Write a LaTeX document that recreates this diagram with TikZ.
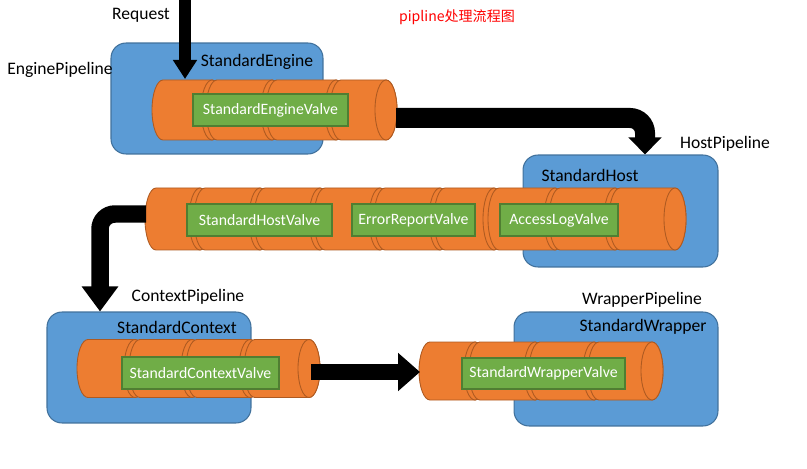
\documentclass[tikz,border=0pt]{standalone}
\usepackage{fontspec}
\setmainfont{Carlito}
\newfontfamily\cjk{Noto Sans CJK SC}
\usetikzlibrary{arrows.meta, positioning, calc}
\definecolor{boxblue}{HTML}{5B9BD5}
\definecolor{boxedge}{HTML}{41719C}
\definecolor{pipeorange}{HTML}{ED7D31}
\definecolor{pipeedge}{HTML}{AE5A21}
\definecolor{valvegreen}{HTML}{70AD47}
\definecolor{valveedge}{HTML}{507E32}
% one pipe: mid y, half height, list of segments left/right
\newcommand{\valvepipe}[3]{%
  \foreach \xl/\xr in {#3} {
    \filldraw[pipeseg] (\xl,#1-#2) -- (\xr,#1-#2) arc[start angle=90, end angle=-90, x radius=0.22cm, y radius=#2*0.02cm]
      -- (\xl,#1+#2) arc[start angle=270, end angle=90, x radius=0.22cm, y radius=#2*0.02cm] -- cycle;
    \draw[pipeseg] (\xr,#1) ellipse[x radius=0.22cm, y radius=#2*0.02cm];
  }%
}
\begin{document}
\begin{tikzpicture}[
        x=0.02cm, y=-0.02cm,
        pipebox/.style={draw=boxedge, fill=boxblue, rounded corners=0.3cm, line width=0.6pt},
        pipeseg/.style={draw=pipeedge, fill=pipeorange, line width=0.5pt},
        valve/.style={draw=valveedge, fill=valvegreen, text=white, font=\fontsize{9}{11}\selectfont, minimum height=0.64cm, inner sep=0pt, line width=0.6pt},
        lbl/.style={inner sep=0pt, font=\fontsize{10}{12}\selectfont},
        bigarrow/.style={draw=black, line width=#1, rounded corners=0.3cm}
    ]
        \useasboundingbox (0,0) rectangle (807,469);

        % containers
        \node[pipebox, minimum width=4.24cm, minimum height=2.22cm] (engine) at (217,98.5) {};
        \node[pipebox, minimum width=3.9cm, minimum height=2.24cm] (host) at (620.5,211) {};
        \node[pipebox, minimum width=4.08cm, minimum height=2.22cm] (context) at (149,367.5) {};
        \node[pipebox, minimum width=4.08cm, minimum height=2.28cm] (wrapper) at (616,369) {};

        % pipes
        \valvepipe{110}{30}{163/212, 217/272, 277/336, 341/386}
        \valvepipe{219}{31}{156/200, 205/260, 265/320, 325/380, 385/440, 445/494, 499/555, 560/615, 620/675}
        \valvepipe{368.5}{29}{88/135, 140/192, 197/250, 255/309}
        \valvepipe{371}{29}{430/475, 480/535, 540/594, 599/652}

        % valves
        \node[valve, minimum width=3.1cm] (enginevalve) at (270.5,110) {StandardEngineValve};
        \node[valve, minimum width=2.9cm] (hostvalve) at (259.5,220) {StandardHostValve};
        \node[valve, minimum width=2.46cm] (errorvalve) at (413.5,220) {ErrorReportValve};
        \node[valve, minimum width=2.36cm] (accessvalve) at (559,220) {AccessLogValve};
        \node[valve, minimum width=3.14cm] (contextvalve) at (200.5,373) {StandardContextValve};
        \node[valve, minimum width=3.26cm, minimum height=0.62cm] (wrappervalve) at (543.5,373.5) {StandardWrapperValve};

        % labels
        \node[lbl] (request) at (141,15) {Request};
        \node[lbl, font=\cjk\fontsize{8}{10}\selectfont, text=red] (title) at (457,17) {pipline处理流程图};
        \node[lbl] (enginelbl) at (60,70) {EnginePipeline};
        \node[lbl] (enginename) at (257,62) {StandardEngine};
        \node[lbl] (hostlbl) at (725,144) {HostPipeline};
        \node[lbl] (hostname) at (590,175) {StandardHost};
        \node[lbl] (contextlbl) at (188,297) {ContextPipeline};
        \node[lbl] (contextname) at (177,327) {StandardContext};
        \node[lbl] (wrapperlbl) at (642,300) {WrapperPipeline};
        \node[lbl] (wrappername) at (643,327) {StandardWrapper};

        % connector ends
        \coordinate (reqtop) at (185,0);
        \coordinate (enginein) at (185,79);
        \coordinate (engineout) at (396,118);
        \coordinate (hostout) at (146,214);
        \coordinate (contextout) at (311,372);
        \coordinate (wrapperin) at (420,372);

        % arrows
        \draw[bigarrow=0.23cm, -{Triangle[width=0.46cm, length=0.38cm]}] (reqtop) -- (enginein);
        \draw[bigarrow=0.4cm, -{Triangle[width=0.64cm, length=0.34cm]}] (engineout) -| ([xshift=0.49cm]host.north);
        \draw[bigarrow=0.35cm, -{Triangle[width=0.7cm, length=0.5cm]}] (hostout) -| ([xshift=-0.98cm]context.north);
        \draw[bigarrow=0.32cm, -{Triangle[width=0.74cm, length=0.44cm]}] (contextout) -- (wrapperin);
    \end{tikzpicture}
\end{document}
